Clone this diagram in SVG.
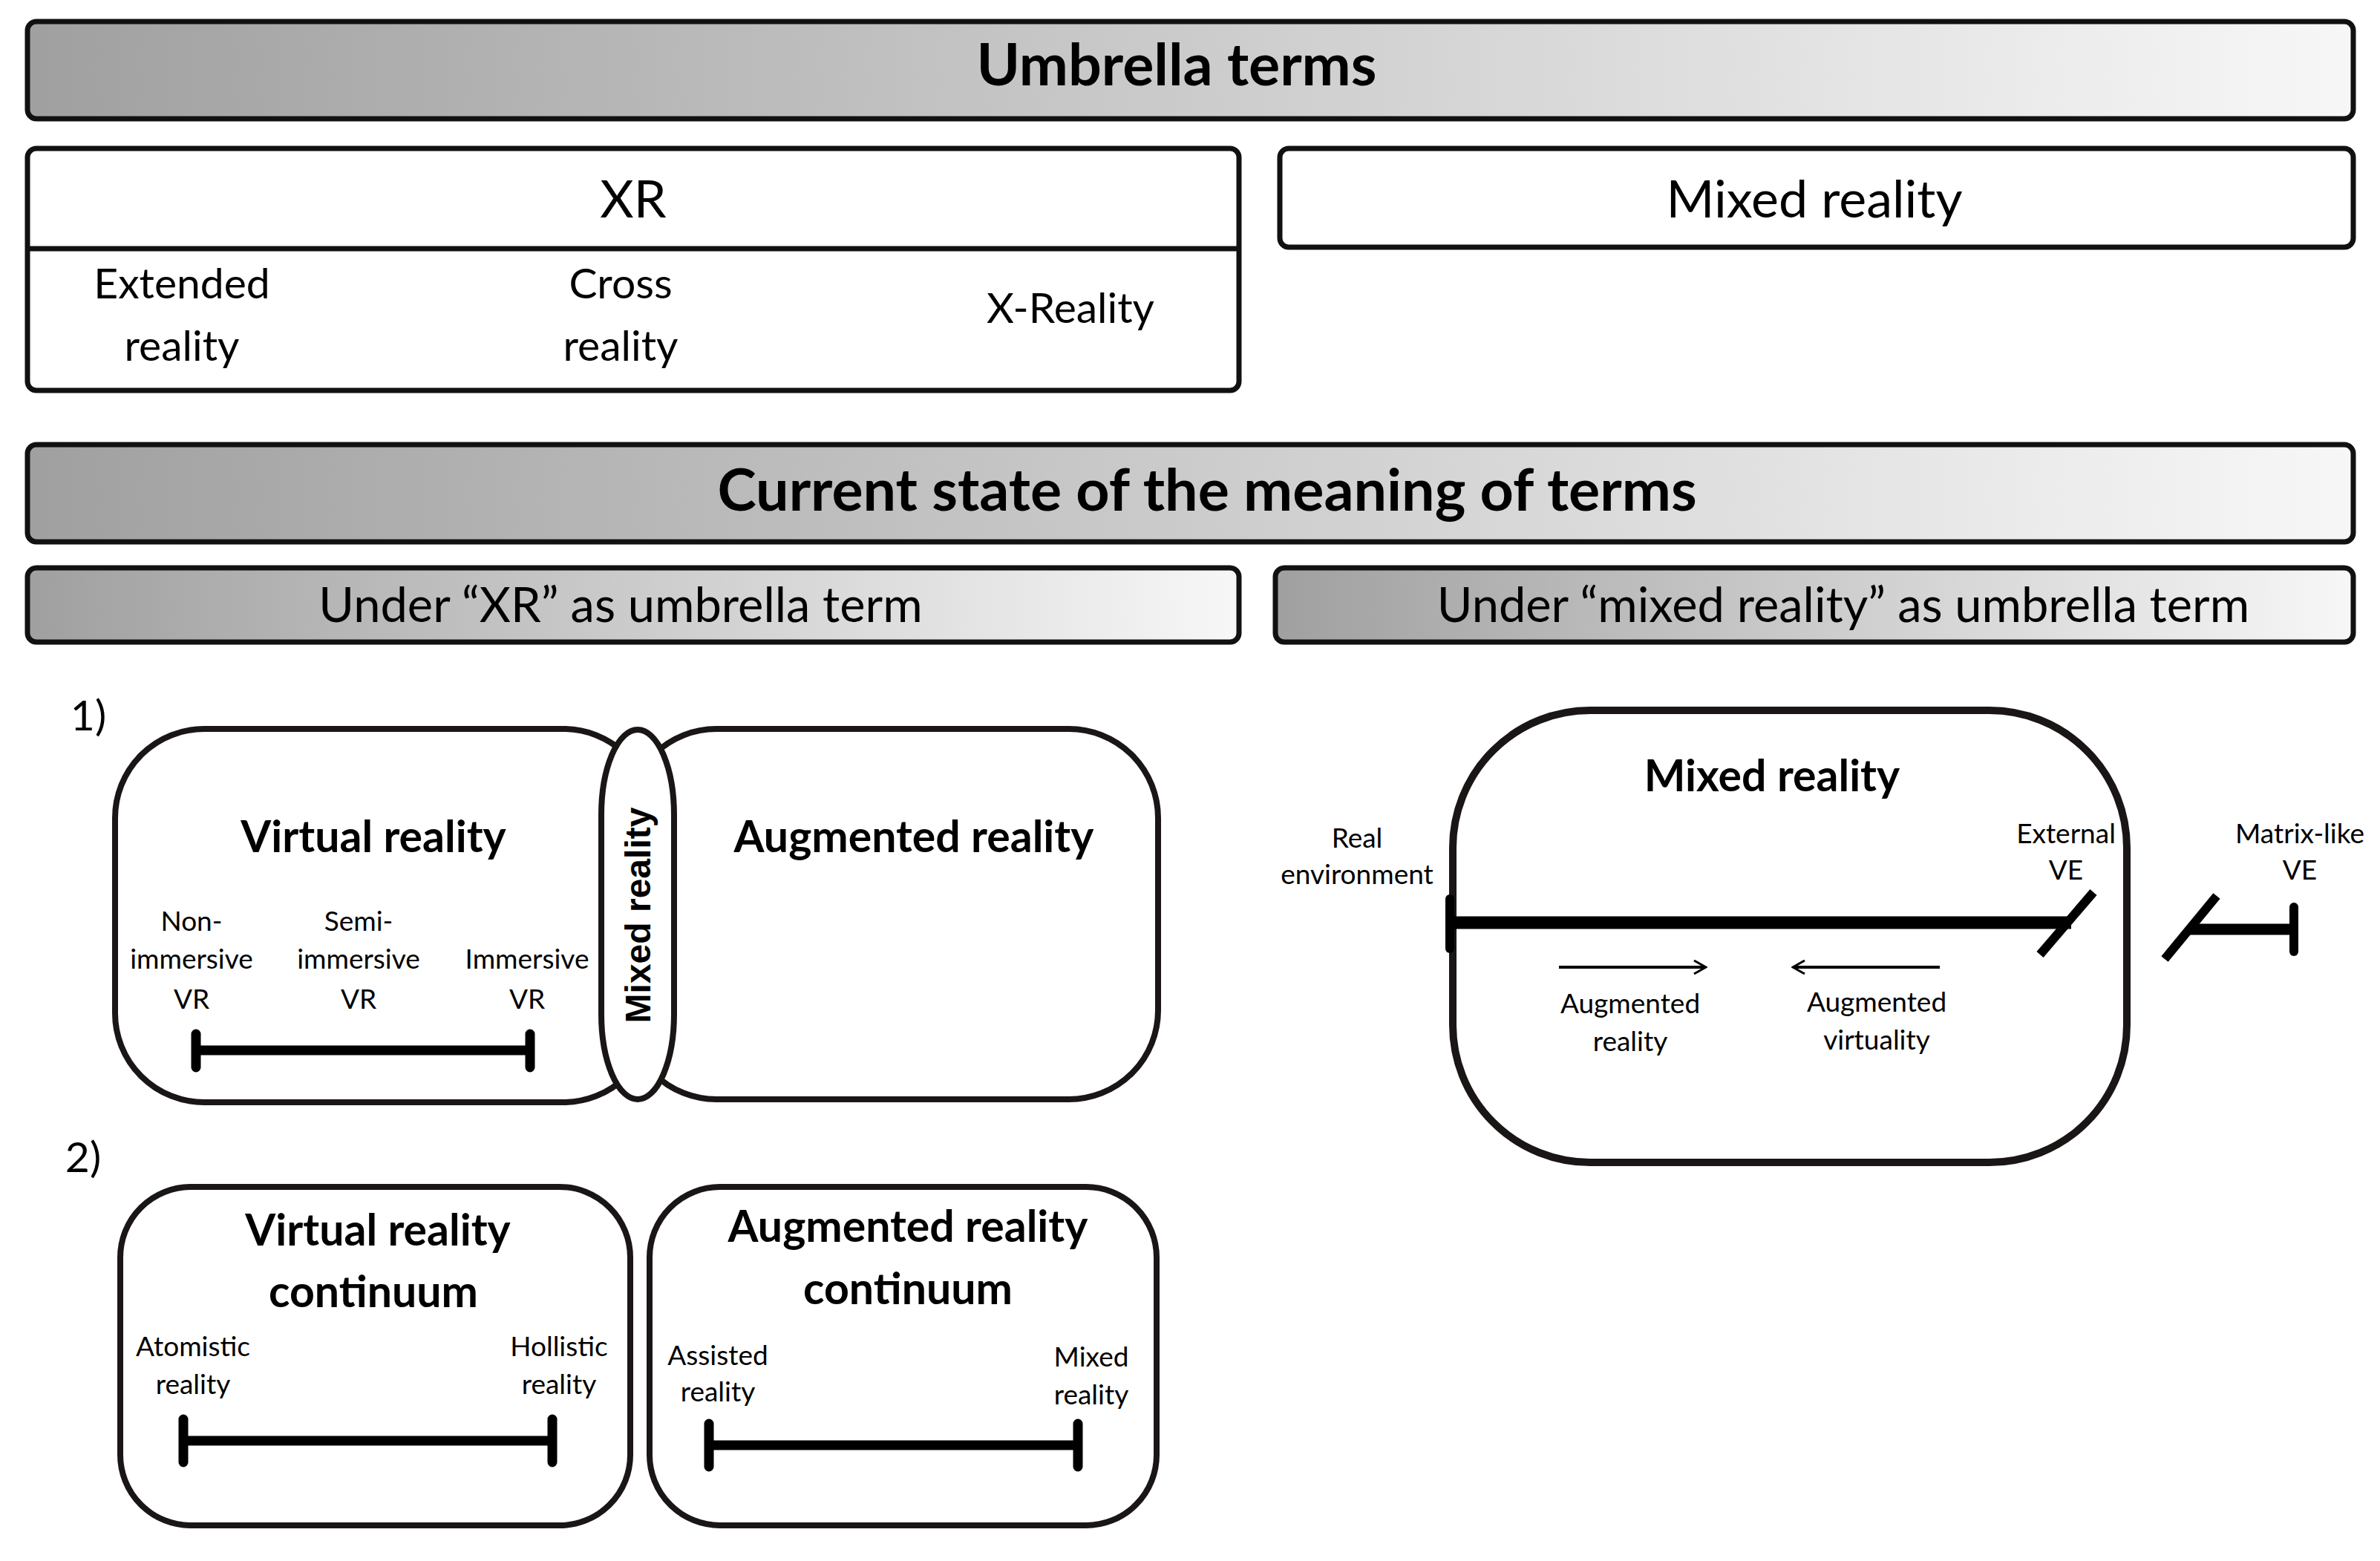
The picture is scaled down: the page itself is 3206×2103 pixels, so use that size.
<svg xmlns="http://www.w3.org/2000/svg" width="3206" height="2103" viewBox="0 0 3206 2103">
<defs>
<linearGradient id="g" x1="0" y1="0" x2="1" y2="0"><stop offset="0" stop-color="#a0a0a0"/><stop offset="1" stop-color="#f7f7f7"/></linearGradient>
<marker id="ah" viewBox="0 0 20 20" refX="18" refY="10" markerWidth="20" markerHeight="20" markerUnits="userSpaceOnUse" orient="auto"><path d="M2,1 L18,10 L2,19" fill="none" stroke="#000" stroke-width="3"/></marker>
</defs>
<style>
text{font-family:Lato,"Open Sans","Liberation Sans",sans-serif;fill:#000;text-anchor:middle}
.bar{fill:url(#g);stroke:#111;stroke-width:7}
.box{fill:#fff;stroke:#111;stroke-width:7}
.rbox{fill:none;stroke:#1a1616;stroke-width:8}
.h1{font-size:79px;font-weight:bold}
.h2{font-size:70px}
.h3{font-size:65px}
.t{font-size:57px}
.b{font-size:59px;font-weight:bold}
.s{font-size:37px}
.thick{stroke:#000;stroke-width:13;stroke-linecap:round;fill:none}
</style>
<rect width="3206" height="2103" fill="#fff"/>
<g id="umbrella"><rect class="bar" x="37" y="29" width="3133" height="131" rx="12"/><text class="h1" x="1585" y="115">Umbrella terms</text></g>
<g id="xr"><rect class="box" x="37" y="200" width="1632" height="326" rx="12"/><line x1="37" y1="335" x2="1669" y2="335" stroke="#111" stroke-width="7"/>
<text class="h2" x="853" y="293">XR</text>
<text class="t" x="245" y="402">Extended</text><text class="t" x="245" y="486">reality</text>
<text class="t" x="836" y="402">Cross</text><text class="t" x="836" y="486">reality</text>
<text class="t" x="1442" y="435">X-Reality</text></g>
<g id="mr-top"><rect class="box" x="1724" y="200" width="1446" height="133" rx="12"/><text class="h2" x="2444" y="293">Mixed reality</text></g>
<g id="current"><rect class="bar" x="37" y="599" width="3133" height="131" rx="12"/><text class="h1" x="1626" y="688">Current state of the meaning of terms</text></g>
<g id="under-xr"><rect class="bar" x="37" y="765" width="1632" height="100" rx="12"/><text class="h3" x="836" y="838">Under “XR” as umbrella term</text></g>
<g id="under-mr"><rect class="bar" x="1718" y="765" width="1452" height="100" rx="12"/><text class="h3" x="2483" y="838">Under “mixed reality” as umbrella term</text></g>
<text class="t" x="119" y="984">1)</text>
<text class="t" x="112" y="1579">2)</text>
<g id="vr1"><rect class="rbox" x="155" y="982" width="724" height="503" rx="120"/>
<text class="b" x="503" y="1148">Virtual reality</text>
<text class="s" x="258" y="1254">Non-</text><text class="s" x="258" y="1305">immersive</text><text class="s" x="258" y="1359">VR</text>
<text class="s" x="483" y="1254">Semi-</text><text class="s" x="483" y="1305">immersive</text><text class="s" x="483" y="1359">VR</text>
<text class="s" x="710" y="1305">Immersive</text><text class="s" x="710" y="1359">VR</text>
<path class="thick" d="M264,1415 H714 M264,1393 V1438 M714,1393 V1438"/></g>
<g id="ar1"><rect class="rbox" x="845" y="982" width="715" height="499" rx="120"/>
<text class="b" x="1231" y="1148">Augmented reality</text></g>
<g id="mr-ellipse"><rect x="810" y="983" width="98" height="498" rx="49" ry="115" fill="#fff" stroke="#1a1616" stroke-width="8"/>
<text x="0" y="0" font-size="48" font-weight="bold" style="font-family:'Liberation Sans',Arial,sans-serif" transform="translate(876,1233) rotate(-90)">Mixed reality</text></g>
<g id="vrc"><rect class="rbox" x="162" y="1599" width="687" height="456" rx="95"/>
<text class="b" x="509" y="1678">Virtual reality</text><text class="b" x="503" y="1761">continuum</text>
<text class="s" x="260" y="1827">Atomistic</text><text class="s" x="260" y="1878">reality</text>
<text class="s" x="753" y="1827">Hollistic</text><text class="s" x="753" y="1878">reality</text>
<path class="thick" d="M247,1941 H744 M247,1912 V1970 M744,1912 V1970"/></g>
<g id="arc"><rect class="rbox" x="875" y="1599" width="683" height="456" rx="95"/>
<text class="b" x="1223" y="1673">Augmented reality</text><text class="b" x="1223" y="1757">continuum</text>
<text class="s" x="967" y="1839">Assisted</text><text class="s" x="967" y="1888">reality</text>
<text class="s" x="1470" y="1841">Mixed</text><text class="s" x="1470" y="1892">reality</text>
<path class="thick" d="M955,1947 H1452 M955,1918 V1976 M1452,1918 V1976"/></g>
<g id="mr-right"><rect x="1957" y="957" width="908" height="609" rx="185" fill="none" stroke="#1a1616" stroke-width="10"/>
<text class="b" x="2387" y="1066">Mixed reality</text>
<text class="s" x="1828" y="1142">Real</text><text class="s" x="1828" y="1191">environment</text>
<text class="s" x="2783" y="1136">External</text><text class="s" x="2783" y="1185">VE</text>
<text class="s" x="3098" y="1136">Matrix-like</text><text class="s" x="3098" y="1185">VE</text>
<text class="s" x="2196" y="1365">Augmented</text><text class="s" x="2196" y="1416">reality</text>
<text class="s" x="2528" y="1363">Augmented</text><text class="s" x="2528" y="1414">virtuality</text></g>
<g id="connectors">
<path d="M1953,1243 H2790" stroke="#000" stroke-width="17" fill="none"/>
<path d="M1953,1211 V1278" stroke="#000" stroke-width="12" stroke-linecap="round"/>
<path d="M2820,1202 L2748,1286" stroke="#000" stroke-width="12"/>
<path d="M2986,1207 L2916,1292" stroke="#000" stroke-width="12"/>
<path d="M2950,1252 H3090" stroke="#000" stroke-width="15"/>
<path d="M3090,1222 V1282" stroke="#000" stroke-width="12" stroke-linecap="round"/>
<path d="M2100,1303 H2298" stroke="#000" stroke-width="4" marker-end="url(#ah)"/>
<path d="M2613,1303 H2415" stroke="#000" stroke-width="4" marker-end="url(#ah)"/>
</g>
</svg>
